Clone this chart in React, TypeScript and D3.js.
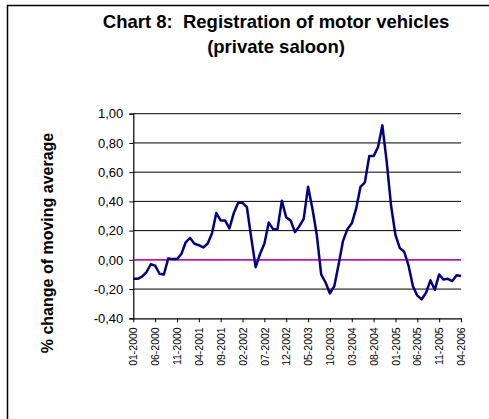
import React, { useEffect, useRef } from 'react';
import * as d3 from 'd3';

// monthly values 01-2000 .. 04-2006
const months = d3.range(76).map(i => {
  const m = (i % 12) + 1;
  const y = 2000 + Math.floor(i / 12);
  return `${m < 10 ? '0' + m : m}-${y}`;
});

const values = [
  -0.13, -0.13, -0.115, -0.085, -0.03, -0.04, -0.095, -0.10, 0.01, 0.005,
  0.005, 0.04, 0.12, 0.15, 0.11, 0.10, 0.085, 0.11, 0.18, 0.32,
  0.27, 0.27, 0.215, 0.32, 0.39, 0.39, 0.36, 0.15, -0.05, 0.04,
  0.11, 0.255, 0.21, 0.21, 0.405, 0.29, 0.27, 0.19, 0.23, 0.28,
  0.50, 0.35, 0.17, -0.10, -0.155, -0.23, -0.18, -0.03, 0.13, 0.21,
  0.25, 0.35, 0.50, 0.53, 0.71, 0.71, 0.77, 0.92, 0.67, 0.37,
  0.17, 0.08, 0.055, -0.04, -0.18, -0.245, -0.27, -0.225, -0.14, -0.205,
  -0.10, -0.135, -0.13, -0.145, -0.105, -0.11,
];

const yTicks = [-0.4, -0.2, 0, 0.2, 0.4, 0.6, 0.8, 1.0];
const tickLabels = months.filter((_, i) => i % 5 === 0);

const App = () => {
  const svgRef = useRef(null);
  const width = 489;
  const height = 419;

  useEffect(() => {
    const svg = d3.select(svgRef.current);
    svg.selectAll('*').remove();

    const font = '"Liberation Sans", Arial, sans-serif';
    const margin = { top: 113.7, right: 28, bottom: 100.7, left: 133.3 };

    // outer chart frame (runs off the right and bottom edges)
    svg.append('path')
      .attr('d', `M7.5,${height + 2}V5.5H${width + 2}`)
      .attr('fill', 'none')
      .attr('stroke', '#000')
      .attr('stroke-width', 1.5);

    // title
    const title = svg.append('text')
      .attr('text-anchor', 'middle')
      .attr('font-family', font)
      .attr('font-weight', 'bold')
      .attr('font-size', '18.5px');
    title.append('tspan').attr('x', 276).attr('y', 28).text('Chart 8:\u00a0 Registration of motor vehicles');
    title.append('tspan').attr('x', 276).attr('y', 53).text('(private saloon)');

    const x = d3.scalePoint()
      .domain(months)
      .range([margin.left, width - margin.right]);

    const y = d3.scaleLinear()
      .domain([-0.4, 1.0])
      .range([height - margin.bottom, margin.top]);

    // gridlines
    svg.append('g')
      .selectAll('line')
      .data(yTicks.filter(d => d !== -0.4))
      .enter()
      .append('line')
      .attr('x1', margin.left)
      .attr('x2', width - margin.right)
      .attr('y1', d => y(d))
      .attr('y2', d => y(d))
      .attr('stroke', '#000')
      .attr('stroke-width', 1);

    // y axis
    const fmt = (d) => d3.format('.2f')(d).replace('.', ',').replace('−', '-');
    const yAxis = svg.append('g')
      .attr('transform', `translate(${margin.left},0)`)
      .call(d3.axisLeft(y).tickValues(yTicks).tickSize(4).tickPadding(6).tickFormat(fmt));
    yAxis.select('.domain').attr('stroke', '#000').attr('stroke-width', 1.2);
    yAxis.selectAll('text')
      .attr('font-family', font)
      .attr('font-size', '13px')
      .attr('fill', '#000');

    // x axis
    const xAxis = svg.append('g')
      .attr('transform', `translate(0,${height - margin.bottom})`)
      .call(d3.axisBottom(x).tickValues(tickLabels).tickSize(4).tickSizeOuter(0));
    xAxis.select('.domain').attr('stroke', '#000').attr('stroke-width', 1.2);
    xAxis.selectAll('text')
      .attr('font-family', font)
      .attr('font-size', '10.5px')
      .attr('fill', '#000')
      .attr('text-anchor', 'end')
      .attr('transform', 'rotate(-90)')
      .attr('x', -9)
      .attr('y', 0)
      .attr('dy', '0.35em');

    // zero line
    svg.append('line')
      .attr('x1', margin.left)
      .attr('x2', width - margin.right)
      .attr('y1', y(0))
      .attr('y2', y(0))
      .attr('stroke', '#E000E0')
      .attr('stroke-width', 1.3);

    // data line
    const line = d3.line()
      .x((d, i) => x(months[i]))
      .y(d => y(d));

    svg.append('path')
      .datum(values)
      .attr('d', line)
      .attr('fill', 'none')
      .attr('stroke', '#000080')
      .attr('stroke-width', 2.5)
      .attr('stroke-linejoin', 'round');

    // y axis title
    svg.append('text')
      .attr('text-anchor', 'middle')
      .attr('transform', `translate(53,243) rotate(-90)`)
      .attr('font-family', font)
      .attr('font-weight', 'bold')
      .attr('font-size', '16px')
      .text('% change of moving average');
  }, []);

  return (
    <svg
      ref={svgRef}
      width={width}
      height={height}
      style={{ position: 'absolute', left: 0, top: 0, background: '#fff' }}
    ></svg>
  );
};

export default App;
